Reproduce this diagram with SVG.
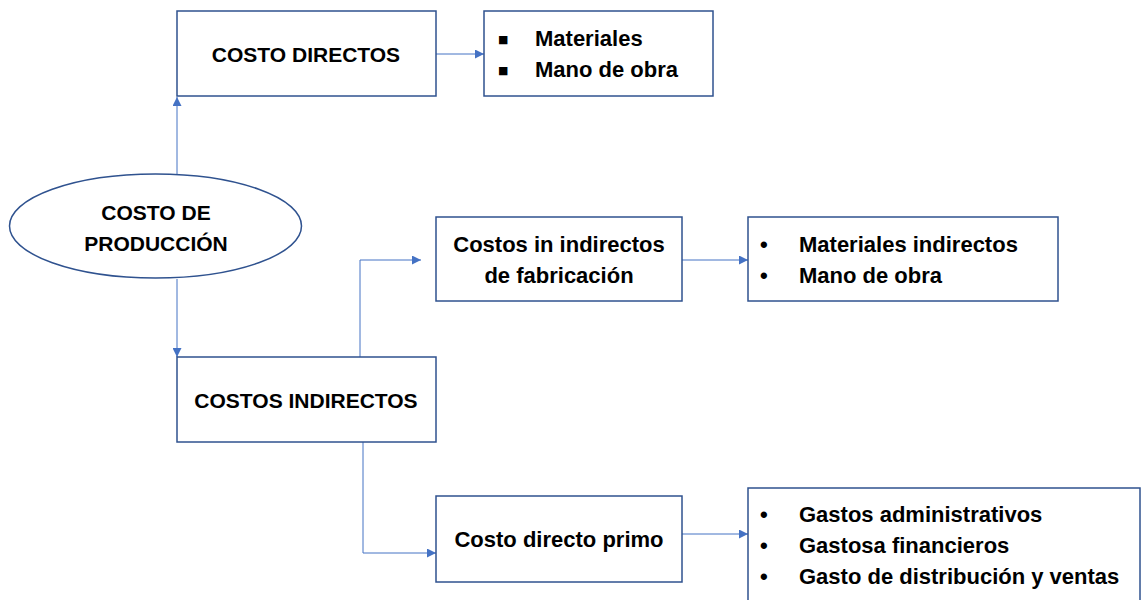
<svg xmlns="http://www.w3.org/2000/svg" width="1142" height="600" viewBox="0 0 1142 600">
<style>
.box{fill:#fff;stroke:#2F528F;stroke-width:1.5}
.t{font-family:"Liberation Sans",Arial,sans-serif;font-weight:bold;fill:#000}
.c{text-anchor:middle}
.caps{font-size:21px}
.mix{font-size:22px}
.sq{font-family:"DejaVu Sans",sans-serif;font-size:11px;fill:#000}
.conn{fill:none;stroke:#4472C4;stroke-width:1}
</style>
<defs>
<marker id="ah" viewBox="0 0 10 10" refX="10" refY="5" markerWidth="9" markerHeight="9" markerUnits="userSpaceOnUse" orient="auto">
<path d="M0,0 L10,5 L0,10 Z" fill="#4472C4"/>
</marker>
</defs>
<rect width="1142" height="600" fill="#fff"/>
<g id="connectors">
<path class="conn" d="M177,174 V97" marker-end="url(#ah)"/>
<path class="conn" d="M436,54 H484" marker-end="url(#ah)"/>
<path class="conn" d="M177,279 V357" marker-end="url(#ah)"/>
<path class="conn" d="M360,357 V260 H421" marker-end="url(#ah)"/>
<path class="conn" d="M682,260 H748" marker-end="url(#ah)"/>
<path class="conn" d="M363,442 V553 H436" marker-end="url(#ah)"/>
<path class="conn" d="M682,534 H748" marker-end="url(#ah)"/>
</g>
<g id="costo-produccion">
<ellipse class="box" cx="155.5" cy="226" rx="146" ry="52"/>
<text class="t c caps" x="156" y="220">COSTO DE</text>
<text class="t c caps" x="156" y="251">PRODUCCIÓN</text>
</g>
<g id="costo-directos">
<rect class="box" x="177" y="11" width="259" height="85"/>
<text class="t c caps" x="306" y="62">COSTO DIRECTOS</text>
</g>
<g id="materiales">
<rect class="box" x="484" y="11" width="229" height="85"/>
<text class="sq" x="498" y="43">■</text>
<text class="t mix" x="535" y="46">Materiales</text>
<text class="sq" x="498" y="74">■</text>
<text class="t mix" x="535" y="77">Mano de obra</text>
</g>
<g id="costos-indirectos">
<rect class="box" x="177" y="357" width="259" height="85"/>
<text class="t c caps" x="306" y="408">COSTOS INDIRECTOS</text>
</g>
<g id="costos-indirectos-fabricacion">
<rect class="box" x="436" y="217" width="246" height="84"/>
<text class="t c mix" x="559" y="252">Costos in indirectos</text>
<text class="t c mix" x="559" y="283">de fabricación</text>
</g>
<g id="materiales-indirectos">
<rect class="box" x="748" y="217" width="310" height="84"/>
<text class="t mix" x="760" y="252">•</text>
<text class="t mix" x="799" y="252">Materiales indirectos</text>
<text class="t mix" x="760" y="283">•</text>
<text class="t mix" x="799" y="283">Mano de obra</text>
</g>
<g id="costo-directo-primo">
<rect class="box" x="436" y="496" width="246" height="86"/>
<text class="t c mix" x="559" y="547">Costo directo primo</text>
</g>
<g id="gastos">
<rect class="box" x="748" y="488" width="392" height="130"/>
<text class="t mix" x="760" y="522">•</text>
<text class="t mix" x="799" y="522">Gastos administrativos</text>
<text class="t mix" x="760" y="553">•</text>
<text class="t mix" x="799" y="553">Gastosa financieros</text>
<text class="t mix" x="760" y="584">•</text>
<text class="t mix" x="799" y="584">Gasto de distribución y ventas</text>
</g>
</svg>
